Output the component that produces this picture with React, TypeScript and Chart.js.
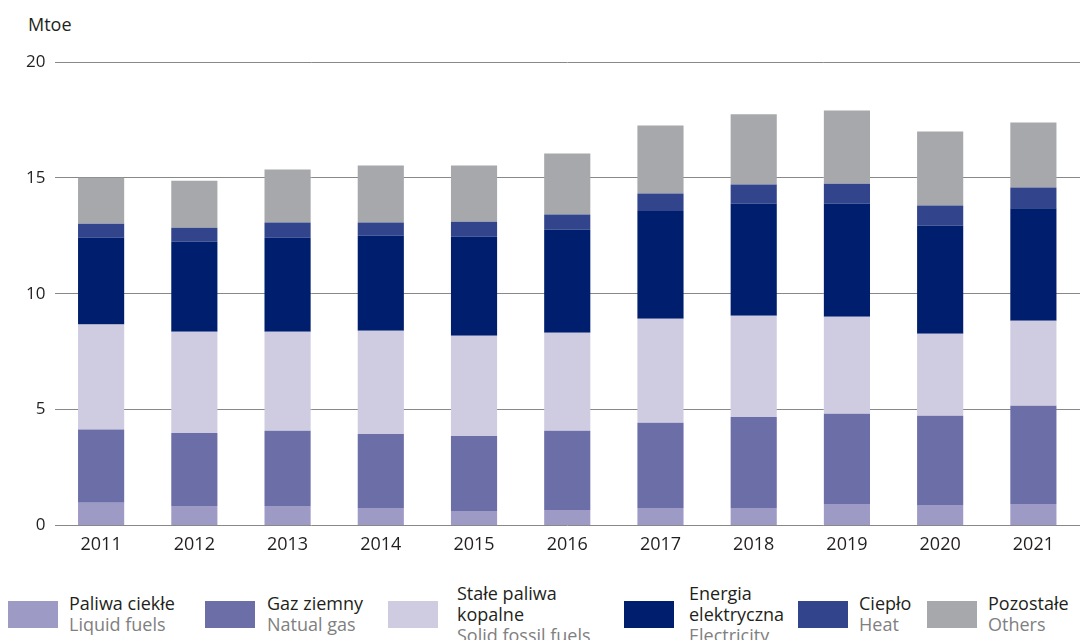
import React, { useEffect, useRef } from "react";
import { Chart, registerables } from "chart.js";

Chart.register(...registerables);

const years = ["2011", "2012", "2013", "2014", "2015", "2016", "2017", "2018", "2019", "2020", "2021"];

const liquidFuels = [0.98, 0.84, 0.84, 0.75, 0.62, 0.67, 0.75, 0.75, 0.92, 0.88, 0.92];
const naturalGas = [3.16, 3.15, 3.24, 3.20, 3.24, 3.41, 3.68, 3.93, 3.90, 3.85, 4.24];
const solidFossil = [4.53, 4.37, 4.28, 4.45, 4.32, 4.23, 4.49, 4.37, 4.19, 3.54, 3.67];
const electricity = [3.75, 3.89, 4.06, 4.11, 4.28, 4.46, 4.65, 4.84, 4.88, 4.67, 4.86];
const heat = [0.60, 0.60, 0.65, 0.56, 0.65, 0.65, 0.75, 0.82, 0.86, 0.87, 0.89];
const others = [1.98, 2.03, 2.29, 2.46, 2.42, 2.63, 2.94, 3.03, 3.16, 3.19, 2.81];

const yTicks = [0, 5, 10, 15, 20];
const unitLabel = "Mtoe";

const seriesLabelsPl = [["Paliwa ciekłe"], ["Gaz ziemny"], ["Stałe paliwa", "kopalne"], ["Energia", "elektryczna"], ["Ciepło"], ["Pozostałe"]];
const seriesLabelsEn = ["Liquid fuels", "Natual gas", "Solid fossil fuels", "Electricity", "Heat", "Others"];
const seriesColors = ["#9e9ac6", "#6c6ea8", "#cfcce2", "#001e6e", "#31448c", "#a7a8ab"];

// layout of legend items (swatch left, text left)
const legendSwatchX = [8, 205, 388, 624, 798, 927];
const legendTextX = [69, 267, 457, 689, 859, 988];

const FONT = "'Open Sans', 'Noto Sans', sans-serif";

export default function App() {
  const canvasRef = useRef<HTMLCanvasElement | null>(null);

  useEffect(() => {
    const canvas = canvasRef.current;
    if (!canvas) return;
    const seriesData = [liquidFuels, naturalGas, solidFossil, electricity, heat, others];
    const chart = new Chart(canvas, {
      type: "bar",
      data: {
        labels: years,
        datasets: seriesData.map((d, i) => ({
          label: seriesLabelsEn[i],
          data: d,
          backgroundColor: seriesColors[i],
          borderWidth: 0,
          barPercentage: 0.495,
          categoryPercentage: 1,
          stack: "s",
        })),
      },
      options: {
        responsive: false,
        animation: false,
        layout: { padding: { top: 62, right: 12, left: 0, bottom: 0 } },
        plugins: {
          legend: { display: false },
          tooltip: { enabled: false },
          title: { display: false },
        },
        scales: {
          x: {
            stacked: true,
            grid: { display: false, drawTicks: false },
            border: { display: false },
            ticks: {
              color: "#231f20",
              font: { family: FONT, size: 18 },
              padding: 9,
              maxRotation: 0,
            },
            afterFit: (scale: any) => {
              scale.height = 34.6;
            },
          },
          y: {
            stacked: true,
            min: 0,
            max: 20,
            afterBuildTicks: (scale: any) => {
              scale.ticks = yTicks.map((v) => ({ value: v }));
            },
            grid: { color: "#888888", lineWidth: 1, drawTicks: false },
            border: { display: false },
            ticks: {
              color: "#231f20",
              font: { family: FONT, size: 17 },
              padding: 9,
            },
            afterFit: (scale: any) => {
              scale.width = 54.5;
            },
          },
        },
      },
    });
    return () => chart.destroy();
  }, []);

  return (
    <div style={{ position: "absolute", left: 0, top: 0, width: 1092, height: 640, overflow: "hidden", background: "#fff", fontFamily: FONT }}>
      <div style={{ position: "absolute", left: 28, top: 12, fontSize: 18, color: "#231f20", lineHeight: "24px" }}>{unitLabel}</div>
      <canvas ref={canvasRef} width={1092} height={560} style={{ position: "absolute", left: 0, top: 0, width: 1092, height: 560 }} />
      {seriesLabelsEn.map((en, i) => (
        <React.Fragment key={en}>
          <div
            style={{
              position: "absolute",
              left: legendSwatchX[i],
              top: 601,
              width: 50,
              height: 27,
              background: seriesColors[i],
            }}
          />
          <div
            style={{
              position: "absolute",
              left: legendTextX[i],
              top: 613.5,
              transform: "translateY(-50%)",
              fontSize: 18,
              lineHeight: "21px",
              whiteSpace: "nowrap",
            }}
          >
            {seriesLabelsPl[i].map((t) => (
              <div key={t} style={{ color: "#231f20" }}>{t}</div>
            ))}
            <div style={{ color: "#808080" }}>{en}</div>
          </div>
        </React.Fragment>
      ))}
    </div>
  );
}
